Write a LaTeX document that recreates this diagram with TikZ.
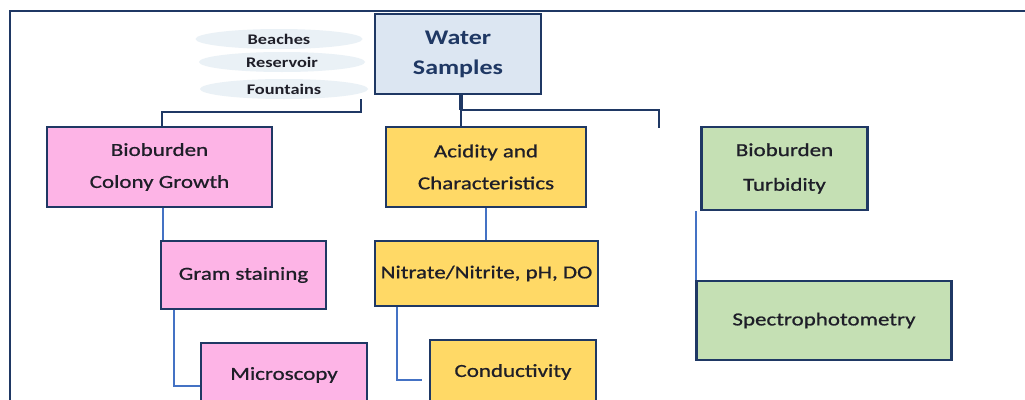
\documentclass[tikz,border=0pt]{standalone}
\usepackage{fontspec}
\setmainfont{Carlito}[FakeStretch=1.25]
\newfontfamily\cardfont{Carlito}[FakeStretch=1.25, FakeBold=0.8]
\usetikzlibrary{shapes.geometric}
\definecolor{navy}{HTML}{1F3864}
\definecolor{linkblue}{HTML}{4472C4}
\definecolor{skyfill}{HTML}{DCE6F2}
\definecolor{pinkfill}{HTML}{FDB4E6}
\definecolor{goldfill}{HTML}{FFD966}
\definecolor{sagefill}{HTML}{C5E0B4}
\definecolor{mistfill}{HTML}{EAF1F6}
\definecolor{ink}{HTML}{1E1E28}
\newcommand{\pu}{0.75pt}
\tikzset{
  sz/.style 2 args={minimum width=#1*\pu, minimum height=#2*\pu},
  card/.style={draw=navy, line width=1.9pt, inner sep=0pt, align=center,
    text=ink, font=\cardfont\fontsize{13.8pt}{24pt}\selectfont},
  pinkcard/.style={card, fill=pinkfill},
  goldcard/.style={card, fill=goldfill},
  sagecard/.style={card, fill=sagefill},
  source/.style={ellipse, fill=mistfill, inner sep=0pt, text=ink,
    font=\fontsize{11pt}{12pt}\selectfont\bfseries},
  toplink/.style={draw=navy, line width=1.3pt},
  sublink/.style={draw=linkblue, line width=1.3pt},
}
\begin{document}
\begin{tikzpicture}[x=\pu, y=-\pu]
\useasboundingbox (0,0) rectangle (1025,400);
\clip (0,0) rectangle (1025,400);
\fill[white] (0,0) rectangle (1025,400);

% outer frame
\draw[navy, line width=1.8pt] (10,11) rectangle (1100,480);

% sampling sites
\node[source, sz={167}{20}] (beach) at (279,39) {Beaches};
\node[source, sz={166}{20}] (resv) at (282,62) {Reservoir};
\node[source, sz={168}{20}] (fount) at (284,89) {Fountains};

% root
\node[card, fill=skyfill, sz={166}{80}, text=navy,
  font=\fontsize{15.6pt}{22.5pt}\selectfont\bfseries] (water) at (458,54) {Water\\Samples};

% first level
\node[pinkcard, sz={225}{80}] (colony) at (159.5,167) {Bioburden\\Colony Growth};
\node[goldcard, sz={200}{80}] (acid) at (486,167) {Acidity and\\Characteristics};
\node[sagecard, sz={166}{83}, font=\cardfont\fontsize{13.8pt}{26pt}\selectfont] (turb) at (784.5,168.5) {Bioburden\\Turbidity};

% second level
\node[pinkcard, sz={165}{68}] (gram) at (243.5,275) {Gram staining};
\node[goldcard, sz={223}{65}] (nitr) at (486.5,273.5) {Nitrate/Nitrite, pH, DO};
\node[sagecard, sz={255}{79}] (spec) at (824,320.5) {Spectrophotometry};

% third level
\node[pinkcard, sz={166}{64}] (micro) at (284,375) {Microscopy};
\node[goldcard, sz={166}{64}] (cond) at (513,372) {Conductivity};

% junctions of the top connectors
\coordinate (hub) at (461,110);
\coordinate (stub) at (659,128);

% connectors
\draw[toplink] ([xshift=77*\pu]fount.south) -- ++(0,13) -| ([xshift=2.5*\pu]colony.north);
\draw[navy, line width=2.6pt] ([xshift=3*\pu]water.south) -- (hub);
\draw[toplink] (hub) -| (stub);
\draw[toplink] (hub) -- (hub |- acid.north);

\draw[sublink] ([xshift=3*\pu]gram.north west) -- ([xshift=3*\pu]gram.north west |- colony.south);
\draw[sublink] ([xshift=14*\pu]gram.south west) |- ([yshift=-11*\pu]micro.west);

\draw[sublink] (acid.south) -- (acid.south |- nitr.north);
\draw[sublink] ([xshift=23*\pu]nitr.south west) |- ([xshift=-7*\pu, yshift=-8*\pu]cond.west);

\draw[sublink] ([xshift=0.5*\pu]spec.north west) -- ([xshift=0.5*\pu]spec.north west |- turb.south);
\end{tikzpicture}
\end{document}
